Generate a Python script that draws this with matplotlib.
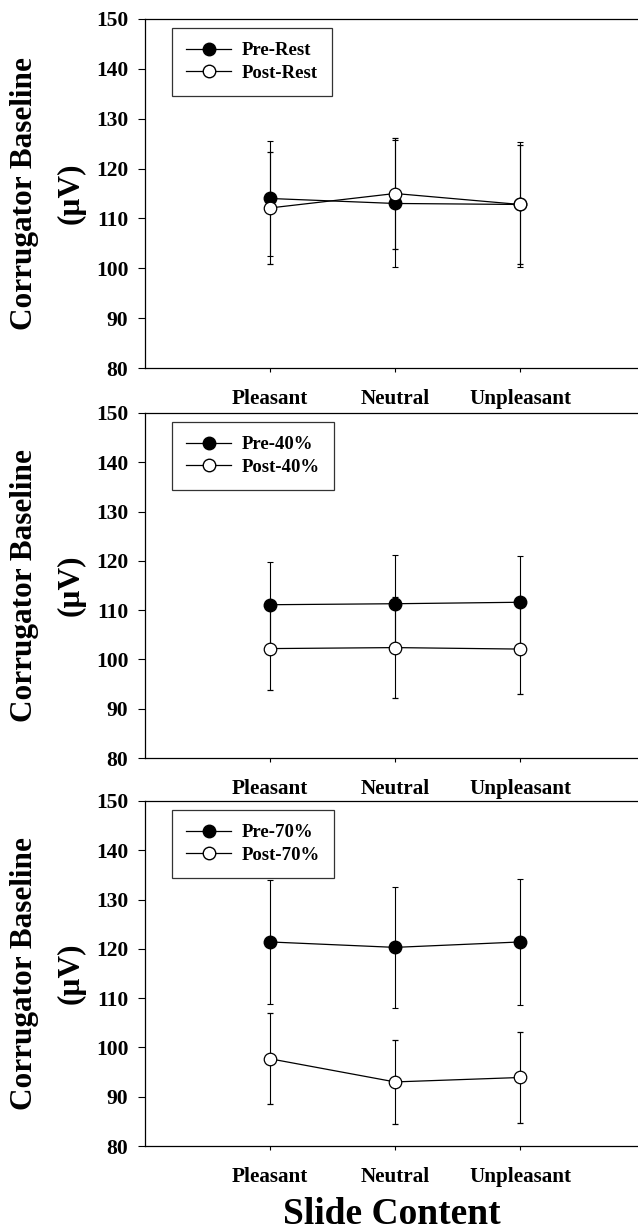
import matplotlib
matplotlib.use('Agg')
import matplotlib.pyplot as plt
from matplotlib.lines import Line2D
import numpy as np

plt.rcParams['font.family'] = ['Liberation Serif', 'DejaVu Serif']
plt.rcParams['font.weight'] = 'bold'

categories = ['Pleasant', 'Neutral', 'Unpleasant']
xs = [1, 2, 3]

# panel 1 - rest
pre_rest = [114.0, 113.0, 112.8]
pre_rest_err = [11.6, 12.7, 12.5]
post_rest = [112.1, 115.0, 112.8]
post_rest_err = [11.2, 11.2, 12.0]

# panel 2 - 40%
pre_40 = [111.1, 111.3, 111.6]
pre_40_err = [8.7, 9.8, 9.4]
post_40 = [102.2, 102.4, 102.1]
post_40_err = [8.5, 10.2, 9.2]

# panel 3 - 70%
pre_70 = [121.4, 120.3, 121.4]
pre_70_err = [12.6, 12.2, 12.8]
post_70 = [97.7, 93.0, 93.9]
post_70_err = [9.2, 8.6, 9.2]

panels = [
  (pre_rest, pre_rest_err, post_rest, post_rest_err, 'Pre-Rest', 'Post-Rest'),
  (pre_40, pre_40_err, post_40, post_40_err, 'Pre-40%', 'Post-40%'),
  (pre_70, pre_70_err, post_70, post_70_err, 'Pre-70%', 'Post-70%'),
]

W, H = 638, 1231
fig = plt.figure(figsize=(W / 100, H / 100), dpi=100)

# pixel boxes (top, bottom) of each panel
boxes = [(19, 368), (413, 758), (801, 1146)]
left_px, right_px = 145, 645

for (pre, pre_e, post, post_e, lab1, lab2), (top, bot) in zip(panels, boxes):
  ax = fig.add_axes([left_px / W, 1 - bot / H, (right_px - left_px) / W, (bot - top) / H])
  ax.errorbar(xs, pre, yerr=pre_e, color='black', lw=0.9, elinewidth=0.8,
              capsize=2.3, capthick=0.8, marker='o', ms=9, mfc='black',
              mec='black', zorder=3)
  ax.errorbar(xs, post, yerr=post_e, color='black', lw=0.9, elinewidth=0.8,
              capsize=2.3, capthick=0.8, marker='o', ms=9, mfc='white',
              mec='black', mew=0.9, zorder=4)
  ax.set_xlim(0, 4)
  ax.set_ylim(80, 150)
  ax.set_yticks(np.arange(80, 151, 10))
  ax.set_xticks(xs)
  ax.set_xticklabels(categories, fontsize=15.2, fontweight='bold')
  ax.tick_params(axis='y', labelsize=15.5, direction='out', length=5, width=0.8, pad=7)
  ax.tick_params(axis='x', direction='out', length=3, width=0.8, pad=12)
  for s in ax.spines.values():
    s.set_linewidth(0.9)

  # two-line y label, lines set well apart as in the original
  yc = 1 - (top + bot) / 2 / H
  fig.text(25 / W, yc, 'Corrugator Baseline', rotation=90, ha='center', va='center',
           fontsize=22.5, fontweight='bold')
  fig.text(71 / W, yc, '(\u00b5V)', rotation=90, ha='center', va='center',
           fontsize=22.5, fontweight='bold')

  handles = [
    Line2D([], [], color='black', lw=0.9, marker='o', ms=9, mfc='black', mec='black'),
    Line2D([], [], color='black', lw=0.9, marker='o', ms=9, mfc='white', mec='black'),
  ]
  leg = ax.legend(handles, [lab1, lab2], loc='upper left',
                  bbox_to_anchor=(27 / 500, 1 - 9 / (bot - top)), borderaxespad=0,
                  fontsize=13.5, frameon=True, fancybox=False, edgecolor='black',
                  handlelength=2.4, borderpad=0.75, labelspacing=0.3, handletextpad=0.55)
  leg.get_frame().set_linewidth(0.9)

fig.text(392 / W, 1 - 1214 / H, 'Slide Content', ha='center', va='center',
         fontsize=27, fontweight='bold')

fig.savefig('out.png', dpi=100)
